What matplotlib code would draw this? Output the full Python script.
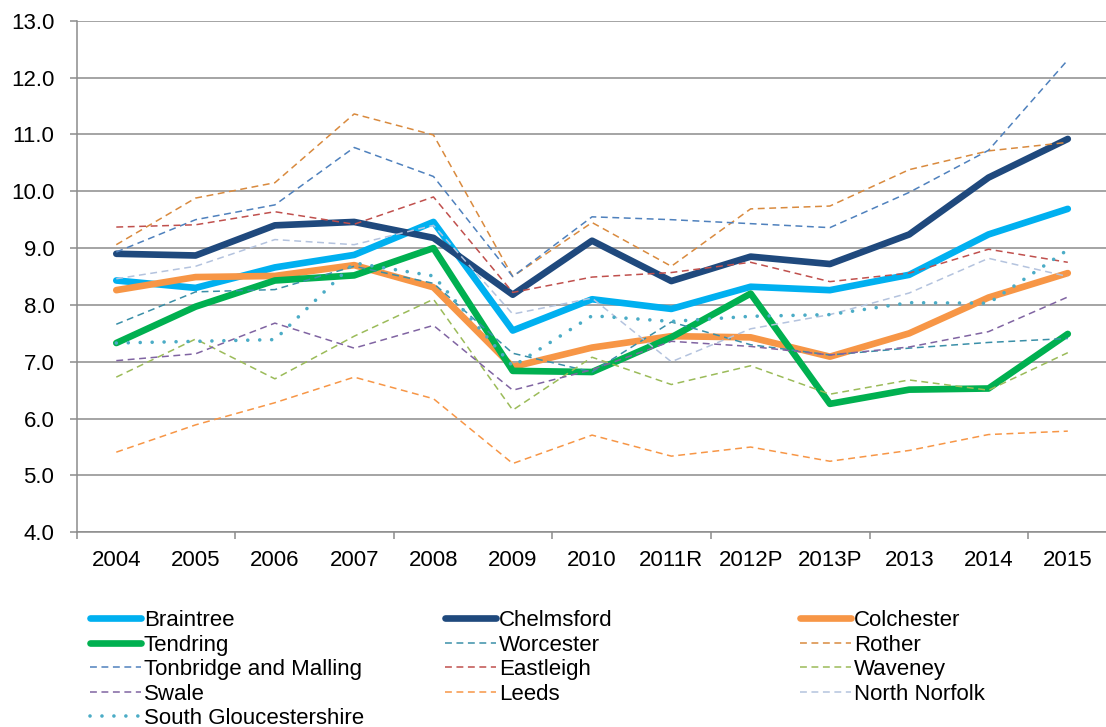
import matplotlib
matplotlib.use("Agg")
import matplotlib.pyplot as plt
from matplotlib.ticker import FixedLocator, FuncFormatter

plt.rcParams['font.family'] = ['Liberation Sans', 'DejaVu Sans']

categories = ['2004', '2005', '2006', '2007', '2008', '2009', '2010',
              '2011R', '2012P', '2013P', '2013', '2014', '2015']

braintree = [8.43, 8.30, 8.66, 8.88, 9.46, 7.55, 8.10, 7.93, 8.32, 8.26, 8.53, 9.24, 9.69]
chelmsford = [8.90, 8.87, 9.40, 9.46, 9.18, 8.18, 9.13, 8.42, 8.85, 8.72, 9.24, 10.24, 10.92]
colchester = [8.26, 8.49, 8.51, 8.70, 8.31, 6.91, 7.25, 7.45, 7.43, 7.09, 7.50, 8.13, 8.56]
tendring = [7.33, 7.97, 8.43, 8.52, 9.00, 6.84, 6.82, 7.43, 8.20, 6.26, 6.51, 6.53, 7.49]
worcester = [7.66, 8.23, 8.27, 8.68, 8.38, 7.15, 6.82, 7.70, 7.30, 7.12, 7.24, 7.34, 7.41]
rother = [9.06, 9.88, 10.15, 11.36, 10.99, 8.50, 9.45, 8.68, 9.69, 9.74, 10.38, 10.71, 10.86]
tonbridge = [8.93, 9.50, 9.76, 10.77, 10.26, 8.50, 9.55, 9.50, 9.43, 9.36, 9.98, 10.72, 12.31]
eastleigh = [9.37, 9.41, 9.64, 9.42, 9.90, 8.22, 8.49, 8.57, 8.75, 8.41, 8.56, 8.98, 8.75]
waveney = [6.73, 7.40, 6.70, 7.45, 8.10, 6.15, 7.08, 6.60, 6.93, 6.43, 6.68, 6.50, 7.16]
swale = [7.02, 7.14, 7.68, 7.24, 7.64, 6.50, 6.86, 7.36, 7.27, 7.12, 7.26, 7.53, 8.14]
leeds = [5.41, 5.89, 6.28, 6.73, 6.35, 5.21, 5.71, 5.34, 5.50, 5.25, 5.44, 5.72, 5.78]
north_norfolk = [8.46, 8.68, 9.15, 9.06, 9.40, 7.84, 8.12, 7.00, 7.58, 7.83, 8.21, 8.82, 8.50]
south_glos = [7.33, 7.36, 7.39, 8.74, 8.51, 6.92, 7.81, 7.71, 7.80, 7.83, 8.04, 8.03, 8.97]

y_ticks = [4.0, 5.0, 6.0, 7.0, 8.0, 9.0, 10.0, 11.0, 12.0, 13.0]

THICK = 4.8
THIN = 1.1
DASH = (0, (4.5, 3.0))
DOT = (0, (0.01, 3.3))
FS = 16

series = [
    ('Braintree', braintree, '#00B0F0', THICK, '-'),
    ('Chelmsford', chelmsford, '#1F497D', THICK, '-'),
    ('Colchester', colchester, '#F79646', THICK, '-'),
    ('Tendring', tendring, '#00B050', THICK, '-'),
    ('Worcester', worcester, '#3A8FA8', THIN, DASH),
    ('Rother', rother, '#D98A3E', THIN, DASH),
    ('Tonbridge and Malling', tonbridge, '#4F81BD', THIN, DASH),
    ('Eastleigh', eastleigh, '#C0504D', THIN, DASH),
    ('Waveney', waveney, '#9BBB59', THIN, DASH),
    ('Swale', swale, '#8064A2', THIN, DASH),
    ('Leeds', leeds, '#F79646', THIN, DASH),
    ('North Norfolk', north_norfolk, '#B4C3DE', THIN, DASH),
    ('South Gloucestershire', south_glos, '#4BACC6', 2.6, DOT),
]

fig = plt.figure(figsize=(11.06, 7.27), dpi=100)
ax = fig.add_axes([0.0693, 0.2678, 0.9320, 0.7037])

x = list(range(len(categories)))
handles = {}
for name, vals, color, lw, ls in series:
    if ls == DOT:
        h, = ax.plot(x, vals, color=color, lw=lw, linestyle=ls,
                     dash_capstyle='round', solid_capstyle='round', label=name)
    elif lw == THICK:
        h, = ax.plot(x, vals, color=color, lw=lw, linestyle=ls,
                     solid_capstyle='round', solid_joinstyle='round', label=name)
    else:
        h, = ax.plot(x, vals, color=color, lw=lw, linestyle=ls,
                     dash_capstyle='butt', label=name)
    handles[name] = h

ax.set_xlim(-0.5, len(categories) - 0.5)
ax.set_ylim(4.0, 13.0)

grid_c = '#8C8C8C'
ax.yaxis.set_major_locator(FixedLocator(y_ticks))
ax.yaxis.set_major_formatter(FuncFormatter(lambda v, p: f"{v:.1f}"))
ax.grid(axis='y', color=grid_c, lw=1.1)
ax.set_axisbelow(True)

# x: boundary ticks every two categories, labels at category centers
ax.xaxis.set_major_locator(FixedLocator([-0.5 + 2 * k for k in range(7)]))
ax.xaxis.set_major_formatter(FuncFormatter(lambda v, p: ''))
ax.set_xticks(x, minor=True)
ax.set_xticklabels(categories, minor=True)
ax.tick_params(axis='x', which='major', length=5, width=1.1, color=grid_c, direction='out')
ax.tick_params(axis='x', which='minor', length=0, pad=13, labelsize=FS, labelcolor='#000000')
ax.tick_params(axis='y', which='major', length=5, width=1.1, color=grid_c, direction='out',
               pad=11, labelsize=FS, labelcolor='#000000')

for s in ['top', 'right']:
    ax.spines[s].set_visible(False)
for s in ['left', 'bottom']:
    ax.spines[s].set_color(grid_c)
    ax.spines[s].set_linewidth(1.1)

cols = [
    ['Braintree', 'Tendring', 'Tonbridge and Malling', 'Swale', 'South Gloucestershire'],
    ['Chelmsford', 'Worcester', 'Eastleigh', 'Leeds'],
    ['Colchester', 'Rother', 'Waveney', 'North Norfolk'],
]
col_x = [90 / 1106, 445 / 1106, 800 / 1106]
for cx, names in zip(col_x, cols):
    fig.legend([handles[n] for n in names], names, loc='upper left',
               bbox_to_anchor=(cx, 1 - 610 / 727), frameon=False,
               borderpad=0, borderaxespad=0, handlelength=2.3,
               handletextpad=0.12, labelspacing=0.16, fontsize=FS)

fig.savefig('out.png', dpi=100)
